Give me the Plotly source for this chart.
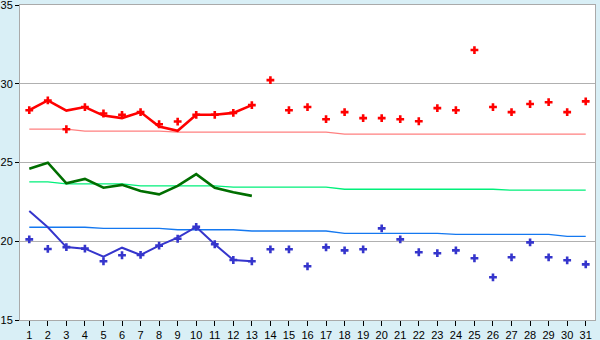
import plotly.graph_objects as go

days = list(range(1, 32))
tick_labels = [str(d) for d in days]

# Thick lines (days 1-13)
red_line = [28.32, 28.94, 28.30, 28.52, 27.98, 27.82, 28.20, 27.28, 27.01, 28.03, 28.03, 28.15, 28.64]
green_line = [24.61, 24.99, 23.68, 23.96, 23.40, 23.58, 23.19, 22.98, 23.51, 24.26, 23.40, 23.11, 22.88]
blue_line = [21.92, 20.89, 19.63, 19.53, 19.02, 19.59, 19.13, 19.72, 20.23, 20.91, 19.81, 18.81, 18.73]

# Markers (days 1-31)
red_pts = [28.32, 28.94, 27.11, 28.52, 28.11, 28.03, 28.20, 27.43, 27.60, 28.03, 28.03, 28.15, 28.64,
           30.23, 28.32, 28.52, 27.75, 28.20, 27.82, 27.82, 27.75, 27.62, 28.45, 28.32, 32.14,
           28.52, 28.20, 28.71, 28.83, 28.20, 28.88]
blue_pts = [20.12, 19.51, 19.63, 19.53, 18.73, 19.11, 19.13, 19.72, 20.16, 20.91, 19.81, 18.81, 18.73,
            19.49, 19.49, 18.41, 19.61, 19.42, 19.49, 20.82, 20.12, 19.30, 19.24, 19.42, 18.92,
            17.71, 18.98, 19.93, 18.98, 18.79, 18.53]

# Thin normal lines (days 1-31)
red_norm = [27.12] * 3 + [26.99] * 5 + [26.93] * 9 + [26.80] * 14
green_norm = [23.77] * 2 + [23.64] * 4 + [23.51] * 5 + [23.44] * 6 + [23.30] * 9 + [23.24] * 5
blue_norm = [20.89] * 4 + [20.82] * 4 + [20.73] * 4 + [20.65] * 5 + [20.50] * 6 + [20.44] * 6 + [20.31] * 2

fig = go.Figure()

fig.add_trace(go.Scatter(x=days, y=red_norm, mode="lines", line=dict(color="#ff8080", width=1.3)))
fig.add_trace(go.Scatter(x=days, y=green_norm, mode="lines", line=dict(color="#00f07a", width=1.3)))
fig.add_trace(go.Scatter(x=days, y=blue_norm, mode="lines", line=dict(color="#1478f0", width=1.3)))

fig.add_trace(go.Scatter(x=days[:13], y=red_line, mode="lines", line=dict(color="#ff0000", width=2.6)))
fig.add_trace(go.Scatter(x=days[:13], y=green_line, mode="lines", line=dict(color="#006e00", width=2.6)))
fig.add_trace(go.Scatter(x=days[:13], y=blue_line, mode="lines", line=dict(color="#3535cc", width=2)))

fig.add_trace(go.Scatter(x=days, y=red_pts, mode="markers",
                         marker=dict(symbol="cross", size=6.5, color="#ff0000", line=dict(width=0))))
fig.add_trace(go.Scatter(x=days, y=blue_pts, mode="markers",
                         marker=dict(symbol="cross", size=6.5, color="#3535cc", line=dict(width=0))))

fig.update_layout(
    width=600, height=340,
    margin=dict(l=20, r=5, t=5, b=20),
    paper_bgcolor="#d9eff6",
    plot_bgcolor="#ffffff",
    showlegend=False,
    font=dict(family="Liberation Sans, Arial", size=11, color="#000000"),
)
fig.update_xaxes(
    range=[0.5, 31.5], tickmode="array", tickvals=days, ticktext=tick_labels,
    ticks="outside", ticklen=5, tickcolor="#000000", tickwidth=1,
    showgrid=False, showline=True, linecolor="#aaaaaa", linewidth=1, mirror=True,
    zeroline=False, fixedrange=True, automargin=False, ticklabeloverflow="allow",
)
fig.update_yaxes(
    range=[15, 35], tickmode="array", tickvals=[15, 20, 25, 30, 35],
    ticks="outside", ticklen=4, tickcolor="#000000", tickwidth=1,
    showgrid=True, gridcolor="#b0b0b0", gridwidth=1,
    showline=True, linecolor="#aaaaaa", linewidth=1, mirror=True,
    zeroline=False, fixedrange=True, automargin=False, ticklabeloverflow="allow",
)

fig.write_html("out.html")
